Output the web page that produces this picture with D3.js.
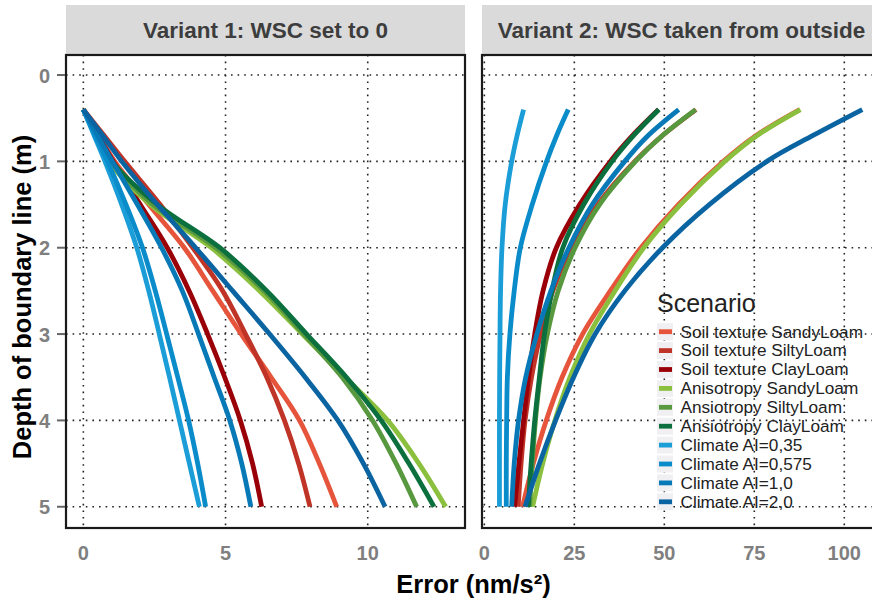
<!DOCTYPE html>
<html>
<head>
<meta charset="utf-8">
<script src="https://cdn.jsdelivr.net/npm/d3@7"></script>
<style>
  body { margin: 0; background: #fff; }
  text { font-family: "Liberation Sans", Arial, Helvetica, sans-serif; }
</style>
</head>
<body>
<div id="chart"></div>
<script>
// depths at which the error curves were read (m)
const depths = [0.4, 0.7, 1, 1.5, 2, 2.5, 3, 3.5, 4, 4.5, 5]

const scenarios = [
  "Soil texture SandyLoam", "Soil texture SiltyLoam", "Soil texture ClayLoam",
  "Anisotropy SandyLoam", "Ansiotropy SiltyLoam", "Ansiotropy ClayLoam",
  "Climate AI=0,35", "Climate AI=0,575", "Climate AI=1,0", "Climate AI=2,0"
]
const colors = [
  "#e5543b", "#bf3427", "#990008",
  "#8bbf3e", "#58993f", "#0b6f3e",
  "#1b9dd8", "#0a8bca", "#0879b7", "#0a64a2"
]
const panelTitles = ["Variant 1: WSC set to 0", "Variant 2: WSC taken from outside"]

// error (nm/s²), one row per scenario, same order as depths
const variant1Errors = [
  [0, 0.55, 1.1, 2.3, 3.55, 4.55, 5.55, 6.6, 7.6, 8.3, 8.91],
  [0, 0.73, 1.45, 2.7, 3.85, 4.9, 5.7, 6.45, 7.07, 7.57, 7.97],
  [0, 0.52, 1.05, 2.0, 2.95, 3.72, 4.37, 4.97, 5.52, 5.95, 6.27],
  [0, 0.43, 0.9, 2.35, 4.5, 6.2, 7.7, 9.2, 10.7, 11.8, 12.74],
  [0, 0.45, 0.95, 2.45, 4.65, 6.35, 7.75, 9.1, 10.17, 11.0, 11.72],
  [0, 0.47, 1.0, 2.6, 4.8, 6.45, 7.85, 9.25, 10.47, 11.45, 12.33],
  [0, 0.38, 0.76, 1.35, 1.88, 2.3, 2.67, 3.03, 3.38, 3.73, 4.08],
  [0, 0.42, 0.85, 1.5, 2.08, 2.53, 2.93, 3.32, 3.7, 4.02, 4.3],
  [0, 0.5, 1.02, 1.9, 2.75, 3.48, 4.05, 4.6, 5.15, 5.57, 5.89],
  [0, 0.68, 1.35, 2.6, 3.95, 5.25, 6.55, 7.8, 8.95, 9.85, 10.61]
]
const variant2Errors = [
  [87.6, 75.5, 66.4, 53.9, 43.5, 35.0, 27.3, 21.6, 17.2, 13.6, 10.6],
  [58.8, 49.5, 41.8, 31.5, 24.2, 19.0, 15.6, 13.1, 11.3, 10.2, 9.4],
  [48.4, 41.2, 35.0, 26.5, 20.0, 16.3, 14.0, 12.3, 10.9, 9.6, 8.4],
  [87.8, 75.8, 66.8, 54.5, 44.3, 36.3, 29.2, 23.8, 19.6, 16.2, 13.4],
  [58.7, 49.5, 42.0, 32.0, 25.2, 20.5, 17.5, 15.5, 14.2, 13.3, 12.6],
  [48.5, 41.5, 35.5, 27.6, 21.8, 18.8, 16.7, 15.3, 14.0, 13.0, 12.2],
  [10.9, 9.1, 7.6, 5.8, 4.9, 4.5, 4.35, 4.25, 4.2, 4.2, 4.2],
  [23.3, 20.1, 17.3, 13.3, 10.0, 8.3, 7.1, 6.4, 6.2, 6.1, 6.1],
  [54.0, 45.5, 39.0, 30.0, 23.5, 18.5, 14.6, 11.5, 9.5, 8.3, 7.6],
  [105.0, 91.3, 78.5, 62.5, 49.5, 39.0, 30.8, 24.8, 19.8, 15.3, 11.3]
]

const yTicks = [0, 1, 2, 3, 4, 5]
const xTicks1 = [0, 5, 10]
const xTicks2 = [0, 25, 50, 75, 100]

var width = 872, height = 603
var panelTop = 55, panelBottom = 528, stripTop = 5

var svg = d3.select('#chart')
  .append('svg')
  .attr('width', width)
  .attr('height', height)

var y = d3.scaleLinear()
  .domain([-0.232, 5.246])
  .range([panelTop, panelBottom])

var panels = [
  { x: d3.scaleLinear().domain([-0.61, 13.42]).range([66, 465]), ticks: xTicks1, data: variant1Errors },
  { x: d3.scaleLinear().domain([-0.65, 110.2]).range([482, 881]), ticks: xTicks2, data: variant2Errors }
]

svg.append('defs').selectAll('clipPath')
  .data(panels)
  .enter()
  .append('clipPath')
  .attr('id', (d, i) => 'clip' + i)
  .append('rect')
  .attr('x', d => d.x.range()[0])
  .attr('y', panelTop)
  .attr('width', d => d.x.range()[1] - d.x.range()[0])
  .attr('height', panelBottom - panelTop)

panels.forEach(function(p, i) {
  let x0 = p.x.range()[0], x1 = p.x.range()[1]
  let g = svg.append('g')

  // strip
  g.append('rect')
    .attr('x', x0)
    .attr('y', stripTop)
    .attr('width', x1 - x0)
    .attr('height', panelTop - stripTop)
    .attr('fill', '#dadadb')
  g.append('text')
    .attr('x', (x0 + x1) / 2)
    .attr('y', 38)
    .attr('text-anchor', 'middle')
    .attr('font-weight', 'bold')
    .attr('font-size', 22.5)
    .attr('fill', '#3d3d3d')
    .text(panelTitles[i])

  // dotted grid
  let grid = g.append('g')
    .attr('stroke', '#222')
    .attr('stroke-width', 1.6)
    .attr('stroke-dasharray', '1.6 5')
  grid.selectAll('.gx')
    .data(p.ticks)
    .enter()
    .append('line')
    .attr('x1', d => p.x(d))
    .attr('x2', d => p.x(d))
    .attr('y1', panelTop)
    .attr('y2', panelBottom)
  grid.selectAll('.gy')
    .data(yTicks)
    .enter()
    .append('line')
    .attr('x1', x0)
    .attr('x2', x1)
    .attr('y1', d => y(d))
    .attr('y2', d => y(d))

  // curves
  let line = d3.line()
    .x(d => p.x(d[1]))
    .y(d => y(d[0]))
    .curve(d3.curveCatmullRom.alpha(0.5))

  g.append('g')
    .attr('clip-path', 'url(#clip' + i + ')')
    .selectAll('path')
    .data(p.data)
    .enter()
    .append('path')
    .attr('d', vals => line(depths.map((dp, k) => [dp, vals[k]])))
    .attr('fill', 'none')
    .attr('stroke', (d, k) => colors[k])
    .attr('stroke-width', 4.8)
    .attr('stroke-linecap', 'butt')
    .attr('stroke-linejoin', 'round')

  // panel border
  g.append('rect')
    .attr('x', x0)
    .attr('y', panelTop)
    .attr('width', x1 - x0)
    .attr('height', panelBottom - panelTop)
    .attr('fill', 'none')
    .attr('stroke', '#1a1a1a')
    .attr('stroke-width', 2.2)

  // x tick labels
  g.selectAll('.xtext')
    .data(p.ticks)
    .enter()
    .append('text')
    .attr('x', d => p.x(d))
    .attr('y', 560)
    .attr('text-anchor', 'middle')
    .attr('font-weight', 'bold')
    .attr('font-size', 20)
    .attr('fill', '#7f7f7f')
    .text(d => d)
})

// y axis on the left panel
var ya = svg.append('g')
ya.selectAll('line')
  .data(yTicks)
  .enter()
  .append('line')
  .attr('x1', 57)
  .attr('x2', 65)
  .attr('y1', d => y(d))
  .attr('y2', d => y(d))
  .attr('stroke', '#666')
  .attr('stroke-width', 2)
ya.selectAll('text')
  .data(yTicks)
  .enter()
  .append('text')
  .attr('x', 50)
  .attr('y', d => y(d) + 7.5)
  .attr('text-anchor', 'end')
  .attr('font-weight', 'bold')
  .attr('font-size', 20)
  .attr('fill', '#7f7f7f')
  .text(d => d)

// axis titles
svg.append('text')
  .attr('x', 473.5)
  .attr('y', 593)
  .attr('text-anchor', 'middle')
  .attr('font-weight', 'bold')
  .attr('font-size', 25.5)
  .attr('fill', '#000')
  .text('Error (nm/s²)')

svg.append('text')
  .attr('transform', 'translate(31,297) rotate(-90)')
  .attr('text-anchor', 'middle')
  .attr('font-weight', 'bold')
  .attr('font-size', 25.5)
  .attr('fill', '#000')
  .text('Depth of boundary line (m)')

// legend, sitting inside the right panel
var lg = svg.append('g')
lg.append('text')
  .attr('x', 657)
  .attr('y', 311.5)
  .attr('font-size', 25)
  .attr('fill', '#222')
  .text('Scenario')

var rowH = 18.9, firstRow = 331.7
var item = lg.selectAll('.item')
  .data(scenarios)
  .enter()
  .append('g')
  .attr('class', 'item')
  .attr('transform', (d, i) => 'translate(0,' + (firstRow + i * rowH) + ')')
item.append('rect')
  .attr('x', 657)
  .attr('y', -8.5)
  .attr('width', 16)
  .attr('height', 17)
  .attr('fill', '#f0f0f2')
item.append('line')
  .attr('x1', 659)
  .attr('x2', 672)
  .attr('y1', 0)
  .attr('y2', 0)
  .attr('stroke', (d, i) => colors[i])
  .attr('stroke-width', 4.8)
item.append('text')
  .attr('x', 680.5)
  .attr('y', 5.8)
  .attr('font-size', 17.2)
  .attr('fill', '#222')
  .text(d => d)
</script>
</body>
</html>
